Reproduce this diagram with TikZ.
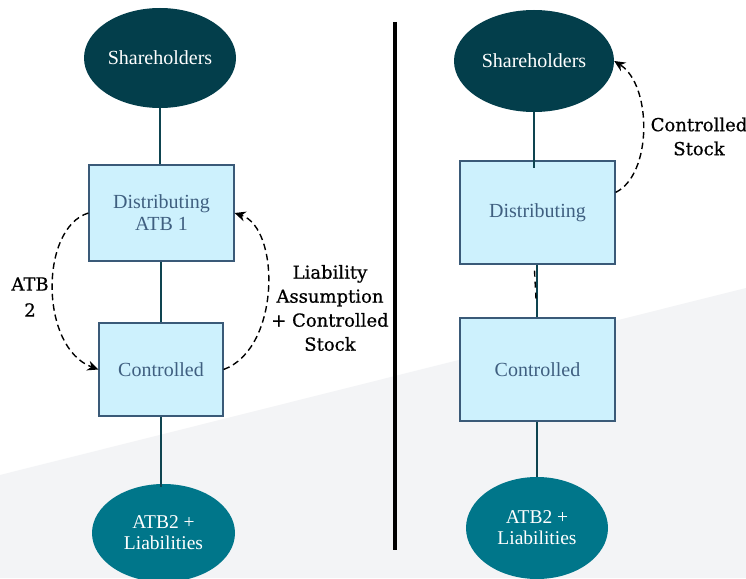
\documentclass[tikz,border=0pt]{standalone}
\usepackage{fontspec}
\setmainfont{Liberation Serif}
\newfontfamily\labelfont[FakeBold=0.6]{DejaVu Serif}
\usetikzlibrary{shapes.geometric,arrows.meta,calc}
\definecolor{bggray}{HTML}{F3F4F6}
\definecolor{shfill}{HTML}{033E4B}
\definecolor{atbfill}{HTML}{00768A}
\definecolor{boxfill}{HTML}{CDF1FD}
\definecolor{boxline}{HTML}{3A5A78}
\definecolor{boxtext}{HTML}{3F5F80}
\definecolor{conn}{HTML}{0E4450}
\tikzset{
  entity/.style={rectangle, draw=boxline, line width=1.2pt, fill=boxfill, inner sep=0pt,
    text=boxtext, align=center, font=\fontsize{20}{22}\selectfont},
  holder/.style={ellipse, fill=shfill, inner sep=0pt, text=white,
    font=\fontsize{20}{22}\selectfont},
  asset/.style={ellipse, fill=atbfill, inner sep=0pt, text=white, align=center,
    font=\fontsize{19.5}{21}\selectfont},
  link/.style={draw=conn, line width=1.8pt},
  flow/.style={draw=black, line width=1.4pt, dash pattern=on 6.5pt off 4pt,
    -{Stealth[length=11pt,width=10pt]}},
  flownotip/.style={draw=black, line width=1.4pt, dash pattern=on 6pt off 5pt},
  note/.style={text=black, align=center, inner sep=0pt, font=\labelfont\fontsize{18}{24}\selectfont}
}
\begin{document}
\begin{tikzpicture}[x=1pt,y=-1pt]
\useasboundingbox (0,0) rectangle (746,578);
\fill[white] (0,0) rectangle (746,578);
\fill[bggray] (0,475) -- (746,288) -- (746,578) -- (0,578) -- cycle;

% left side
\node[holder, minimum width=152pt, minimum height=100pt] (s1) at (160,58) {Shareholders};
\node[entity, minimum width=145pt, minimum height=96pt] (d1) at (161.5,213) {Distributing\\ATB 1};
\node[entity, minimum width=124pt, minimum height=93pt] (c1) at (161,369.5) {Controlled};
\node[asset, minimum width=143pt, minimum height=98pt] (e1) at (163.5,533) {ATB2 +\\Liabilities};

\draw[link] (s1.south) -- (s1.south |- d1.north);
\draw[link] (c1.north |- d1.south) -- (c1.north);
\draw[link] (c1.south) -- ($(c1.south |- e1.north)+(0,3)$);

\draw[flow] (d1.west) .. controls +(-49,15) and +(-59,-22) .. (c1.west);
\draw[flow] (c1.east) .. controls +(57,-21) and +(46,15) .. (d1.east);

\node[note, font=\labelfont\fontsize{18}{26}\selectfont] (l1) at (30,297) {ATB\\2};
\node[note] (l2) at (330,308) {Liability\\Assumption\\+ Controlled\\Stock};

% divider
\coordinate (dtop) at (395,22);
\coordinate (dbot) at (395,550);
\draw[line width=4pt, black] (dtop) -- (dbot);

% right side
\node[holder, minimum width=160pt, minimum height=102pt] (s2) at (534,61) {Shareholders};
\node[entity, minimum width=155pt, minimum height=103pt] (d2) at (537.5,212.5) {Distributing};
\node[entity, minimum width=155pt, minimum height=103pt] (c2) at (537.5,369.5) {Controlled};
\node[asset, minimum width=142pt, minimum height=102pt] (e2) at (537,528) {ATB2 +\\Liabilities};

\draw[link] (s2.south) -- ($(s2.south |- d2.north)+(0,8)$);
\draw[link] (e2.north |- d2.south) -- (e2.north |- c2.north);
\draw[link] (e2.north |- c2.south) -- (e2.north);
\draw[flownotip] ($(d2.south)+(-3,6)$) -- ($(d2.south)+(-1.5,34)$);

\draw[flow] ($(d2.north east)+(0,32)$) .. controls +(37,-18) and +(38,24) .. (s2.east);

\node[note] (l3) at (699,136.5) {Controlled\\Stock};
\end{tikzpicture}
\end{document}
